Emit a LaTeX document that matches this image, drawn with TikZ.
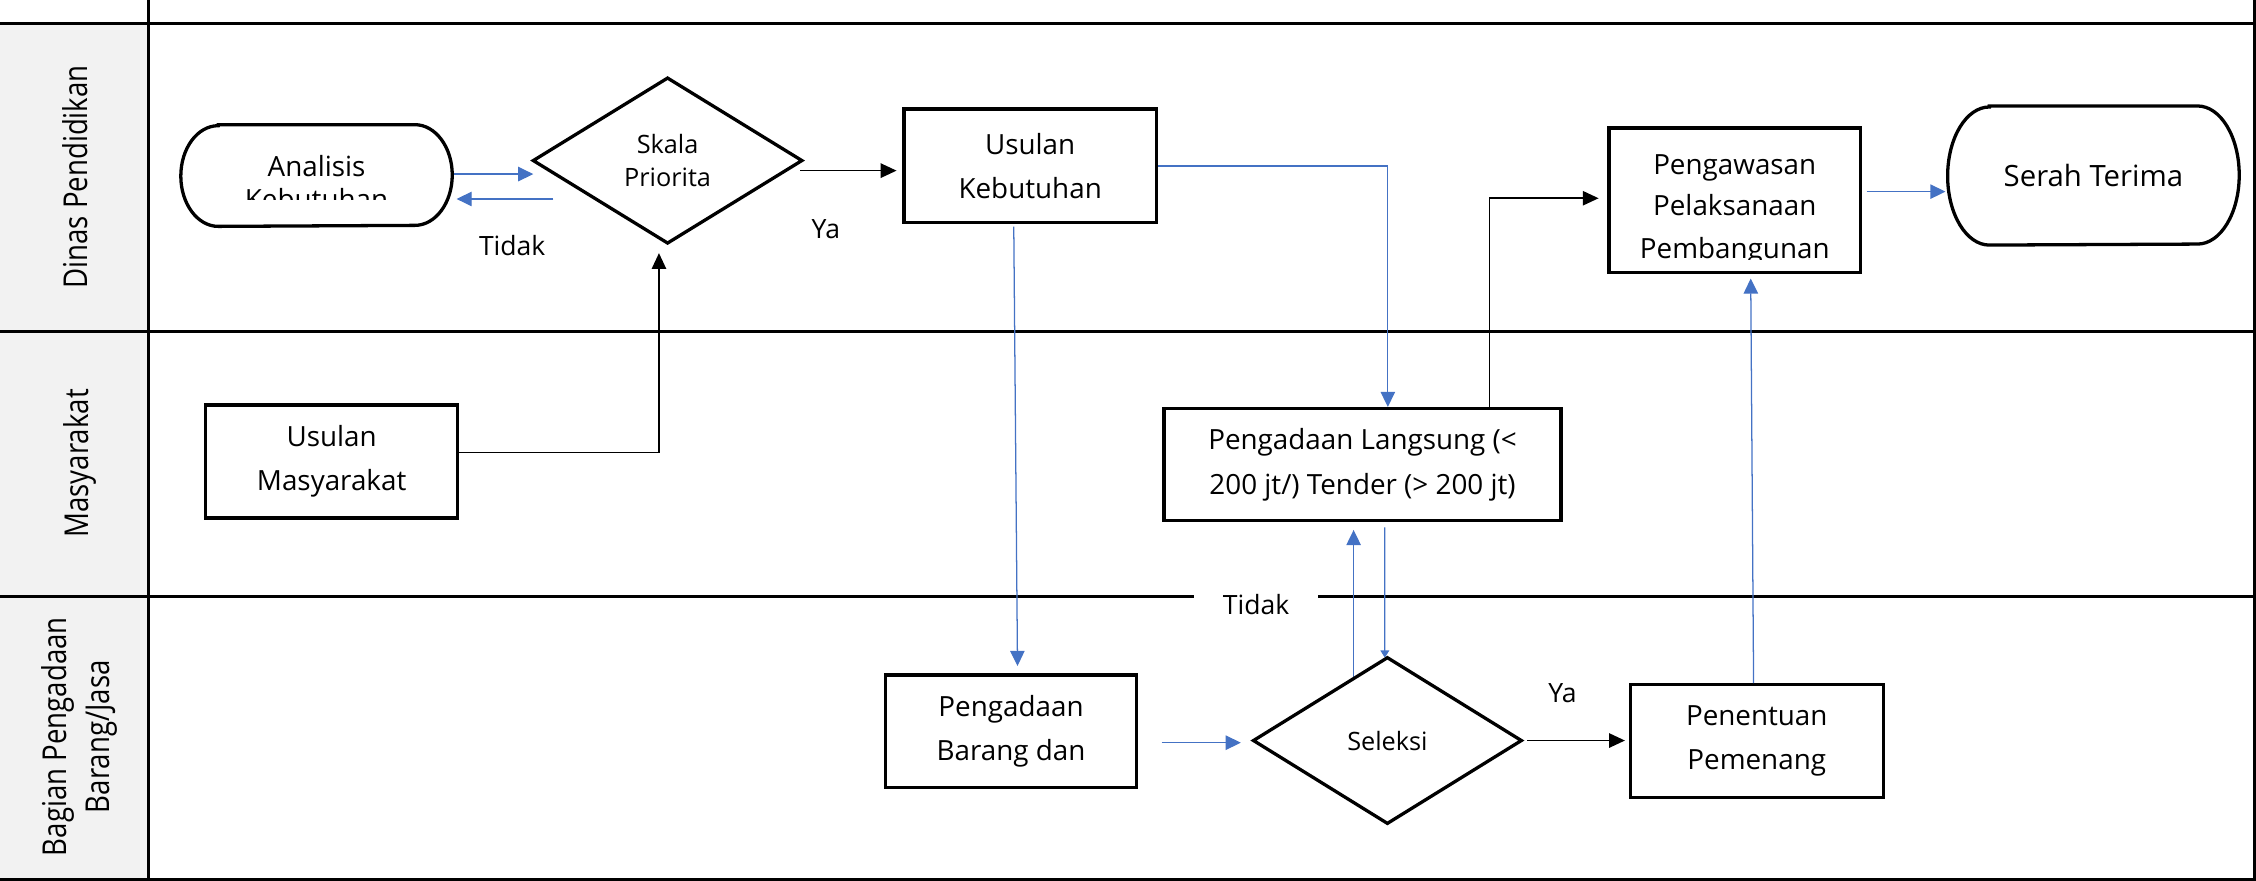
\documentclass[tikz,border=0pt]{standalone}
\usepackage{fontspec}
\setmainfont{Open Sans}
\usetikzlibrary{arrows.meta,calc}
\definecolor{flowblue}{HTML}{4472C4}
\definecolor{lanegray}{HTML}{F2F2F2}

% stadium outline round a named node: name, x radius, y radius
\newcommand\stadiumpath[3]{%
  \draw[outline] ($(#1.north west)+(#2,0)$) -- ($(#1.north east)+(-#2,0)$)
    arc[start angle=90, end angle=-90, x radius=#2, y radius=#3]
    -- ($(#1.south west)+(#2,0)$)
    arc[start angle=270, end angle=90, x radius=#2, y radius=#3] -- cycle;}
% diamond outline through the anchors of a named node
\newcommand\diamondpath[1]{%
  \draw[outline] (#1.north) -- (#1.east) -- (#1.south) -- (#1.west) -- cycle;}

\begin{document}
\begin{tikzpicture}[x=0.02cm, y=0.02cm,
  outline/.style={line width=1.3pt, line join=miter},
  procbox/.style={draw=black, line width=1.3pt, align=center, inner sep=0pt,
    font=\fontsize{11}{17.5}\selectfont},
  shapebox/.style={draw=none, inner sep=0pt, align=center},
  lanerule/.style={line width=1.2pt},
  blueflow/.style={draw=flowblue, line width=0.5pt,
    -{Triangle[length=0.21cm, width=0.2cm]}, color=flowblue},
  blackflow/.style={draw=black, line width=0.6pt,
    -{Triangle[length=0.22cm, width=0.2cm]}},
  flowlabel/.style={font=\fontsize{10.5}{12}\selectfont, inner sep=0pt},
  lanelabel/.style={rotate=90, inner sep=0pt, font=\fontsize{13}{17}\selectfont},
  nodetext/.style={anchor=base, inner sep=0pt, font=\fontsize{11}{17.5}\selectfont}]

\useasboundingbox (0,0) rectangle (1568,612);

% swimlane frame
\fill[lanegray] (0,1) rectangle (103.5,595.5);
\draw[lanerule] (0,595.5) -- (1568,595.5);
\draw[lanerule] (0,381.5) -- (1568,381.5);
\draw[lanerule] (0,197.5) -- (1568,197.5);
\draw[lanerule] (0,1) -- (1568,1);
\draw[lanerule] (103.5,612) -- (103.5,1);
\draw[lanerule] (1567,612) -- (1567,1);

% lane titles
\node[lanelabel, anchor=base] (laneDinas) at (61,489)
  {\scalebox{0.84}[1]{Dinas Pendidikan}};
\node[lanelabel, anchor=base] (laneMas) at (61.5,290)
  {\scalebox{0.84}[1]{Masyarakat}};
\node[lanelabel] (laneBagian) at (55,100)
  {\scalebox{0.84}[1]{\begin{tabular}{@{}c@{}}Bagian Pengadaan\\Barang/Jasa\end{tabular}}};

% nodes
\node[shapebox, minimum width=3.76cm, minimum height=1.4cm] (ana) at (220,490) {};
\node[shapebox, minimum width=3.72cm, minimum height=2.28cm,
  font=\fontsize{10}{12.7}\selectfont] (skala) at (464,500.4) {Skala\\Priorita};
\node[procbox, minimum width=3.51cm, minimum height=1.58cm] (usk) at (716,496.7)
  {Usulan\\Kebutuhan};
\node[procbox, minimum width=3.5cm, minimum height=2.01cm] (peng) at (1205.7,472.8) {};
\node[shapebox, minimum width=4.04cm, minimum height=1.92cm,
  font=\fontsize{11.6}{17.5}\selectfont] (serah) at (1455,490) {Serah Terima};
\node[procbox, minimum width=3.5cm, minimum height=1.57cm] (usm) at (230.5,291.2)
  {Usulan\\Masyarakat};
\node[procbox, minimum width=5.52cm, minimum height=1.56cm] (pl) at (947,289)
  {Pengadaan Langsung (<\\200 jt/) Tender (> 200 jt)};
\node[procbox, minimum width=3.49cm, minimum height=1.57cm] (pbd) at (702.7,103.7)
  {Pengadaan\\Barang dan};
\node[shapebox, minimum width=3.71cm, minimum height=2.29cm,
  font=\fontsize{10}{12.7}\selectfont] (sel) at (964.3,97.3) {Seleksi};
\node[procbox, minimum width=3.52cm, minimum height=1.57cm] (pen) at (1221,96.8)
  {Penentuan\\Pemenang};

% text cut off by the shape's text area
\begin{scope}
  \clip (126,473) rectangle (314,540);
  \node[nodetext] (anaL1) at (220,489.2) {Analisis};
  \node[nodetext] (anaL2) at (220,466.6) {Kebutuhan};
\end{scope}
\begin{scope}
  \clip (1118,431.3) rectangle (1293,520);
  \node[nodetext] (pengL1) at (1205.7,490.8) {Pengawasan};
  \node[nodetext] (pengL2) at (1205.7,461.9) {Pelaksanaan};
  \node[nodetext] (pengL3) at (1205.7,432) {Pembangunan};
\end{scope}

% connectors
\coordinate (a1) at ($(ana.east)+(1,1)$);
\draw[blueflow] (a1) -- (a1 -| skala.west);
\coordinate (tidakStart) at ($(skala.west)+(14,-26.7)$);
\draw[blueflow] (tidakStart) -- ($(tidakStart -| ana.east)+(3,0)$);

\coordinate (b1) at ($(skala.east)+(-1,-7)$);
\draw[blackflow] (b1) -- ($(b1 -| usk.west)+(-4,0)$);

\draw[blackflow] ($(usm.east)+(0,6.4)$) -| ($(skala.south)+(-6,-7)$);

\draw[blueflow] (usk.east) -| ($(pl.north)+(17.6,0)$);
\draw[blueflow] ($(usk.south)+(-11.4,-1.6)$) -- ($(pbd.north)+(4.5,5)$);

\draw[blackflow] ($(pl.north)+(88.2,0)$) |- ($(peng.west)+(-6,1.4)$);

\coordinate (c1) at ($(peng.east)+(3,6)$);
\draw[blueflow] (c1) -- ($(c1 -| serah.west)+(-1.5,0)$);

\coordinate (d1) at ($(pbd.east)+(16.3,-7.9)$);
\draw[blueflow] (d1) -- ($(d1 -| sel.west)+(-8.8,0)$);

\draw[blueflow] ($(sel.north)+(-23.5,-14.5)$) -- ($(pl.south)+(-6.2,-5.2)$);
\draw[draw=flowblue, line width=0.5pt, -{Triangle[length=0.1cm, width=0.12cm]}, color=flowblue]
  ($(pl.south)+(15.5,-3.4)$) -- ($(sel.north)+(-1.8,0)$);

\coordinate (e1) at ($(sel.east)+(4,0)$);
\draw[blackflow] (e1) -- ($(e1 -| pen.west)+(-2.5,0)$);

\draw[blueflow] ($(pen.north)+(-2.2,0)$) -- ($(peng.south)+(11.1,-3)$);

% shape outlines
\stadiumpath{ana}{0.52cm}{0.7cm}
\stadiumpath{serah}{0.58cm}{0.96cm}
\diamondpath{skala}
\diamondpath{sel}

% connector labels
\node[flowlabel] (tidak1) at (356,441) {Tidak};
\node[flowlabel] (ya1) at (574,453) {Ya};
\node[flowlabel, fill=white, inner xsep=0.4cm, inner ysep=0.06cm] (tidak2) at (873,192) {Tidak};
\node[flowlabel] (ya2) at (1086,130) {Ya};

\end{tikzpicture}
\end{document}
